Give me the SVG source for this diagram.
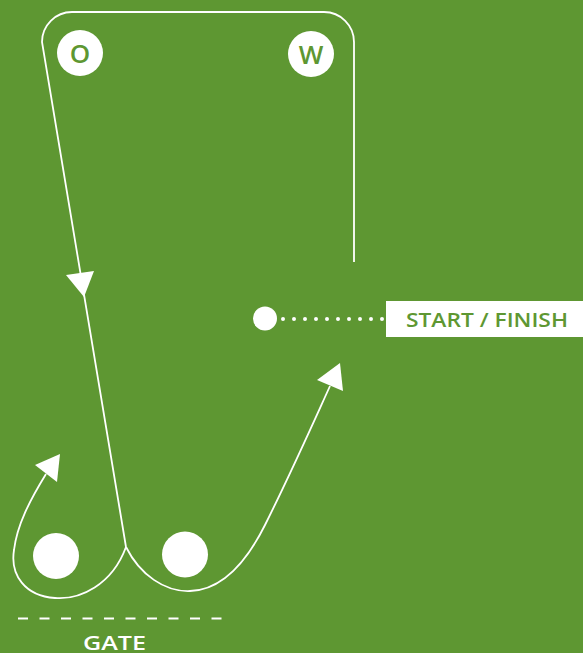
<svg xmlns="http://www.w3.org/2000/svg" width="583" height="653" viewBox="0 0 583 653">
<style>
.bg{fill:#5e9732}
.ln{fill:none;stroke:#fff;stroke-width:1.8}
.wt{fill:#fff}
.lab{font-family:"Open Sans","Liberation Sans",sans-serif;font-weight:600}
</style>
<rect class="bg" x="0" y="0" width="583" height="653"/>
<g id="connectors">
  <path class="ln" d="M354,262 L354,42 A30,30 0 0 0 324,12 L72,12 A30,30 0 0 0 42,42 L126,547"/>
  <polygon class="wt" points="66,275 94,271 84,297"/>
  <path class="ln" d="M126,547 C112,585 80,600 55,598 C25,596 10,575 14,550 C17,525 30,500 46,474"/>
  <polygon class="wt" points="35,465 60,454 57,482"/>
  <path class="ln" d="M126,547 C140,575 165,592 190,591 C220,590 245,565 265,525 C290,475 310,430 330,386"/>
  <polygon class="wt" points="317,380 340,363 343,391"/>
  <line x1="283" y1="319" x2="383" y2="319" stroke="#fff" stroke-width="4" stroke-linecap="round" stroke-dasharray="0 11"/>
</g>
<g id="node-o">
  <circle class="wt" cx="80" cy="53" r="23"/>
  <text class="lab" x="80" y="62.5" font-size="26" fill="#5e9732" text-anchor="middle">O</text>
</g>
<g id="node-w">
  <circle class="wt" cx="311" cy="54" r="23"/>
  <text class="lab" x="311" y="63.5" font-size="26" fill="#5e9732" text-anchor="middle">W</text>
</g>
<g id="node-start">
  <circle class="wt" cx="265" cy="318.5" r="12"/>
</g>
<g id="node-label">
  <rect class="wt" x="386" y="301" width="197" height="36"/>
  <text class="lab" x="406" y="327" font-size="20" fill="#5e9732" textLength="162" lengthAdjust="spacingAndGlyphs">START / FINISH</text>
</g>
<g id="node-ball1">
  <circle class="wt" cx="56" cy="556" r="23"/>
</g>
<g id="node-ball2">
  <circle class="wt" cx="185" cy="554.5" r="23"/>
</g>
<g id="node-gate">
  <line x1="18" y1="618.5" x2="222" y2="618.5" stroke="#fff" stroke-width="2.2" stroke-dasharray="10 11.5"/>
  <text class="lab" x="83" y="649.5" font-size="20" fill="#fff" textLength="63" lengthAdjust="spacingAndGlyphs">GATE</text>
</g>
</svg>
